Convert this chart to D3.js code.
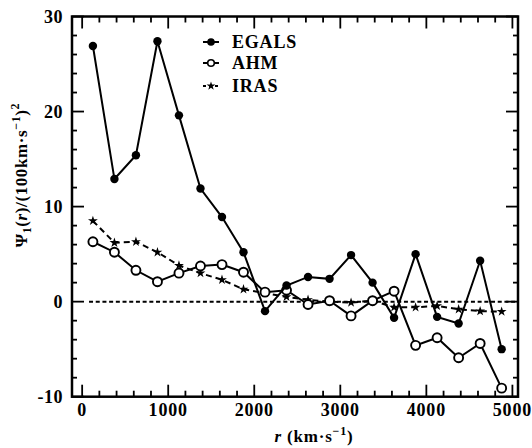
<!DOCTYPE html>
<html><head><meta charset="utf-8">
<script src="https://cdn.jsdelivr.net/npm/d3@7"></script>
<style>
body{margin:0;background:#fff}svg{display:block}
svg text{font-family:"Liberation Serif","DejaVu Serif","Nimbus Roman","FreeSerif","Times New Roman",Times,serif;font-weight:bold}
</style>
</head><body>
<svg id="c" width="532" height="448"></svg>
<script>
const rValues = [125,375,625,875,1125,1375,1625,1875,2125,2375,2625,2875,3125,3375,3625,3875,4125,4375,4625,4875];
const egals = [26.9,12.9,15.4,27.4,19.6,11.9,8.9,5.2,-1.0,1.7,2.6,2.4,4.9,2.0,-1.7,5.0,-1.6,-2.3,4.3,-5.0];
const ahm   = [6.3,5.2,3.3,2.1,3.0,3.75,3.9,3.1,1.0,1.2,-0.3,0.1,-1.5,0.1,1.1,-4.6,-3.8,-5.9,-4.4,-9.1];
const iras  = [8.5,6.2,6.3,5.2,3.8,3.0,2.3,1.3,0.9,0.5,0.2,0.0,-0.1,0.1,-0.6,-0.6,-0.45,-0.8,-1.0,-1.05];
const xTickLabels = [0,1000,2000,3000,4000,5000];
const yTickLabels = [-10,0,10,20,30];
const seriesNames = ["EGALS","AHM","IRAS"];

const svg = d3.select("#c");
const L=72,R=518,T=16.5,B=396.7;
const x = d3.scaleLinear().domain([-118,5065]).range([L,R]);
const y = d3.scaleLinear().domain([-10,30]).range([B,T]);

// zero reference line
svg.append("line").attr("x1",x(80)).attr("x2",R).attr("y1",y(0)).attr("y2",y(0))
  .attr("stroke","#000").attr("stroke-width",2).attr("stroke-dasharray","4,2.7");

// ticks (inward)
const xt = d3.range(0,5001,200), yt = d3.range(-10,31,2);
const g = svg.append("g").attr("stroke","#000").attr("stroke-width",1.8);
xt.forEach(v=>{
  const len = v%1000===0?12:6;
  g.append("line").attr("x1",x(v)).attr("x2",x(v)).attr("y1",B).attr("y2",B-len);
  g.append("line").attr("x1",x(v)).attr("x2",x(v)).attr("y1",T).attr("y2",T+len);
});
yt.forEach(v=>{
  const len = v%10===0?12:5;
  g.append("line").attr("y1",y(v)).attr("y2",y(v)).attr("x1",L).attr("x2",L+len);
  g.append("line").attr("y1",y(v)).attr("y2",y(v)).attr("x1",R).attr("x2",R-len);
});
svg.append("rect").attr("x",L).attr("y",T).attr("width",R-L).attr("height",B-T)
  .attr("fill","none").attr("stroke","#000").attr("stroke-width",2.5);

// tick labels
svg.append("g").selectAll("text").data(xTickLabels).join("text")
  .attr("x",d=>x(d)).attr("y",B+19).attr("text-anchor","middle")
  .attr("font-size",18).attr("letter-spacing",0.8).text(d=>d);
svg.append("g").selectAll("text").data(yTickLabels).join("text")
  .attr("x",L-9).attr("y",d=>y(d)+6).attr("text-anchor","end")
  .attr("font-size",18).attr("letter-spacing",0.5).text(d=>d);

// axis titles
const xt1 = svg.append("text").attr("x",314).attr("y",442).attr("text-anchor","middle")
  .attr("font-size",17).attr("letter-spacing",0.8);
xt1.append("tspan").attr("font-style","italic").text("r");
xt1.append("tspan").text(" (km·s");
xt1.append("tspan").attr("dy",-7).attr("font-size",12).text("−1");
xt1.append("tspan").attr("dy",7).text(")");

const yt1 = svg.append("text").attr("transform","translate(27,175) rotate(-90)").attr("text-anchor","middle")
  .attr("font-size",17).attr("letter-spacing",0.6);
yt1.append("tspan").text("Ψ");
yt1.append("tspan").attr("dy",4).attr("font-size",12).text("1");
yt1.append("tspan").attr("dy",-4).text("(");
yt1.append("tspan").attr("font-style","italic").text("r");
yt1.append("tspan").text(")/(100km·s");
yt1.append("tspan").attr("dy",-7).attr("font-size",12).text("−1");
yt1.append("tspan").attr("dy",7).text(")");
yt1.append("tspan").attr("dy",-8).attr("font-size",12).text("2");

// series
const line = d3.line().x(d=>x(d[0])).y(d=>y(d[1]));
function pts(arr){return rValues.map((r,i)=>[r,arr[i]]);}
const star = d3.symbol().type(d3.symbolStar).size(30);

svg.append("path").datum(pts(iras)).attr("d",line).attr("fill","none")
  .attr("stroke","#000").attr("stroke-width",2).attr("stroke-dasharray","6,4");
svg.append("g").selectAll("path").data(pts(iras)).join("path")
  .attr("d",star).attr("transform",d=>`translate(${x(d[0])},${y(d[1])})`).attr("fill","#000");

svg.append("path").datum(pts(ahm)).attr("d",line).attr("fill","none")
  .attr("stroke","#000").attr("stroke-width",2);
svg.append("g").selectAll("circle").data(pts(ahm)).join("circle")
  .attr("cx",d=>x(d[0])).attr("cy",d=>y(d[1])).attr("r",4.5)
  .attr("fill","#fff").attr("stroke","#000").attr("stroke-width",1.9);

svg.append("path").datum(pts(egals)).attr("d",line).attr("fill","none")
  .attr("stroke","#000").attr("stroke-width",2);
svg.append("g").selectAll("circle").data(pts(egals)).join("circle")
  .attr("cx",d=>x(d[0])).attr("cy",d=>y(d[1])).attr("r",4.2)
  .attr("fill","#000");

// legend
const lg = svg.append("g");
const ly = [42,63,86];
seriesNames.forEach((n,i)=>{
  const yy = ly[i];
  const ln = lg.append("line").attr("x1",203).attr("x2",219).attr("y1",yy).attr("y2",yy)
    .attr("stroke","#000").attr("stroke-width",2);
  if(i===2) ln.attr("stroke-dasharray","3,3");
  if(i===0) lg.append("circle").attr("cx",211).attr("cy",yy).attr("r",3.8).attr("fill","#000");
  if(i===1) lg.append("circle").attr("cx",211).attr("cy",yy).attr("r",3.3).attr("fill","#fff").attr("stroke","#000").attr("stroke-width",1.6);
  if(i===2) lg.append("path").attr("d",d3.symbol().type(d3.symbolStar).size(24)).attr("transform",`translate(211,${yy})`).attr("fill","#000");
  lg.append("text").attr("x",232).attr("y",yy+6)
    .attr("font-size",18).attr("letter-spacing",0.8).text(n);
});
</script>
</body></html>
